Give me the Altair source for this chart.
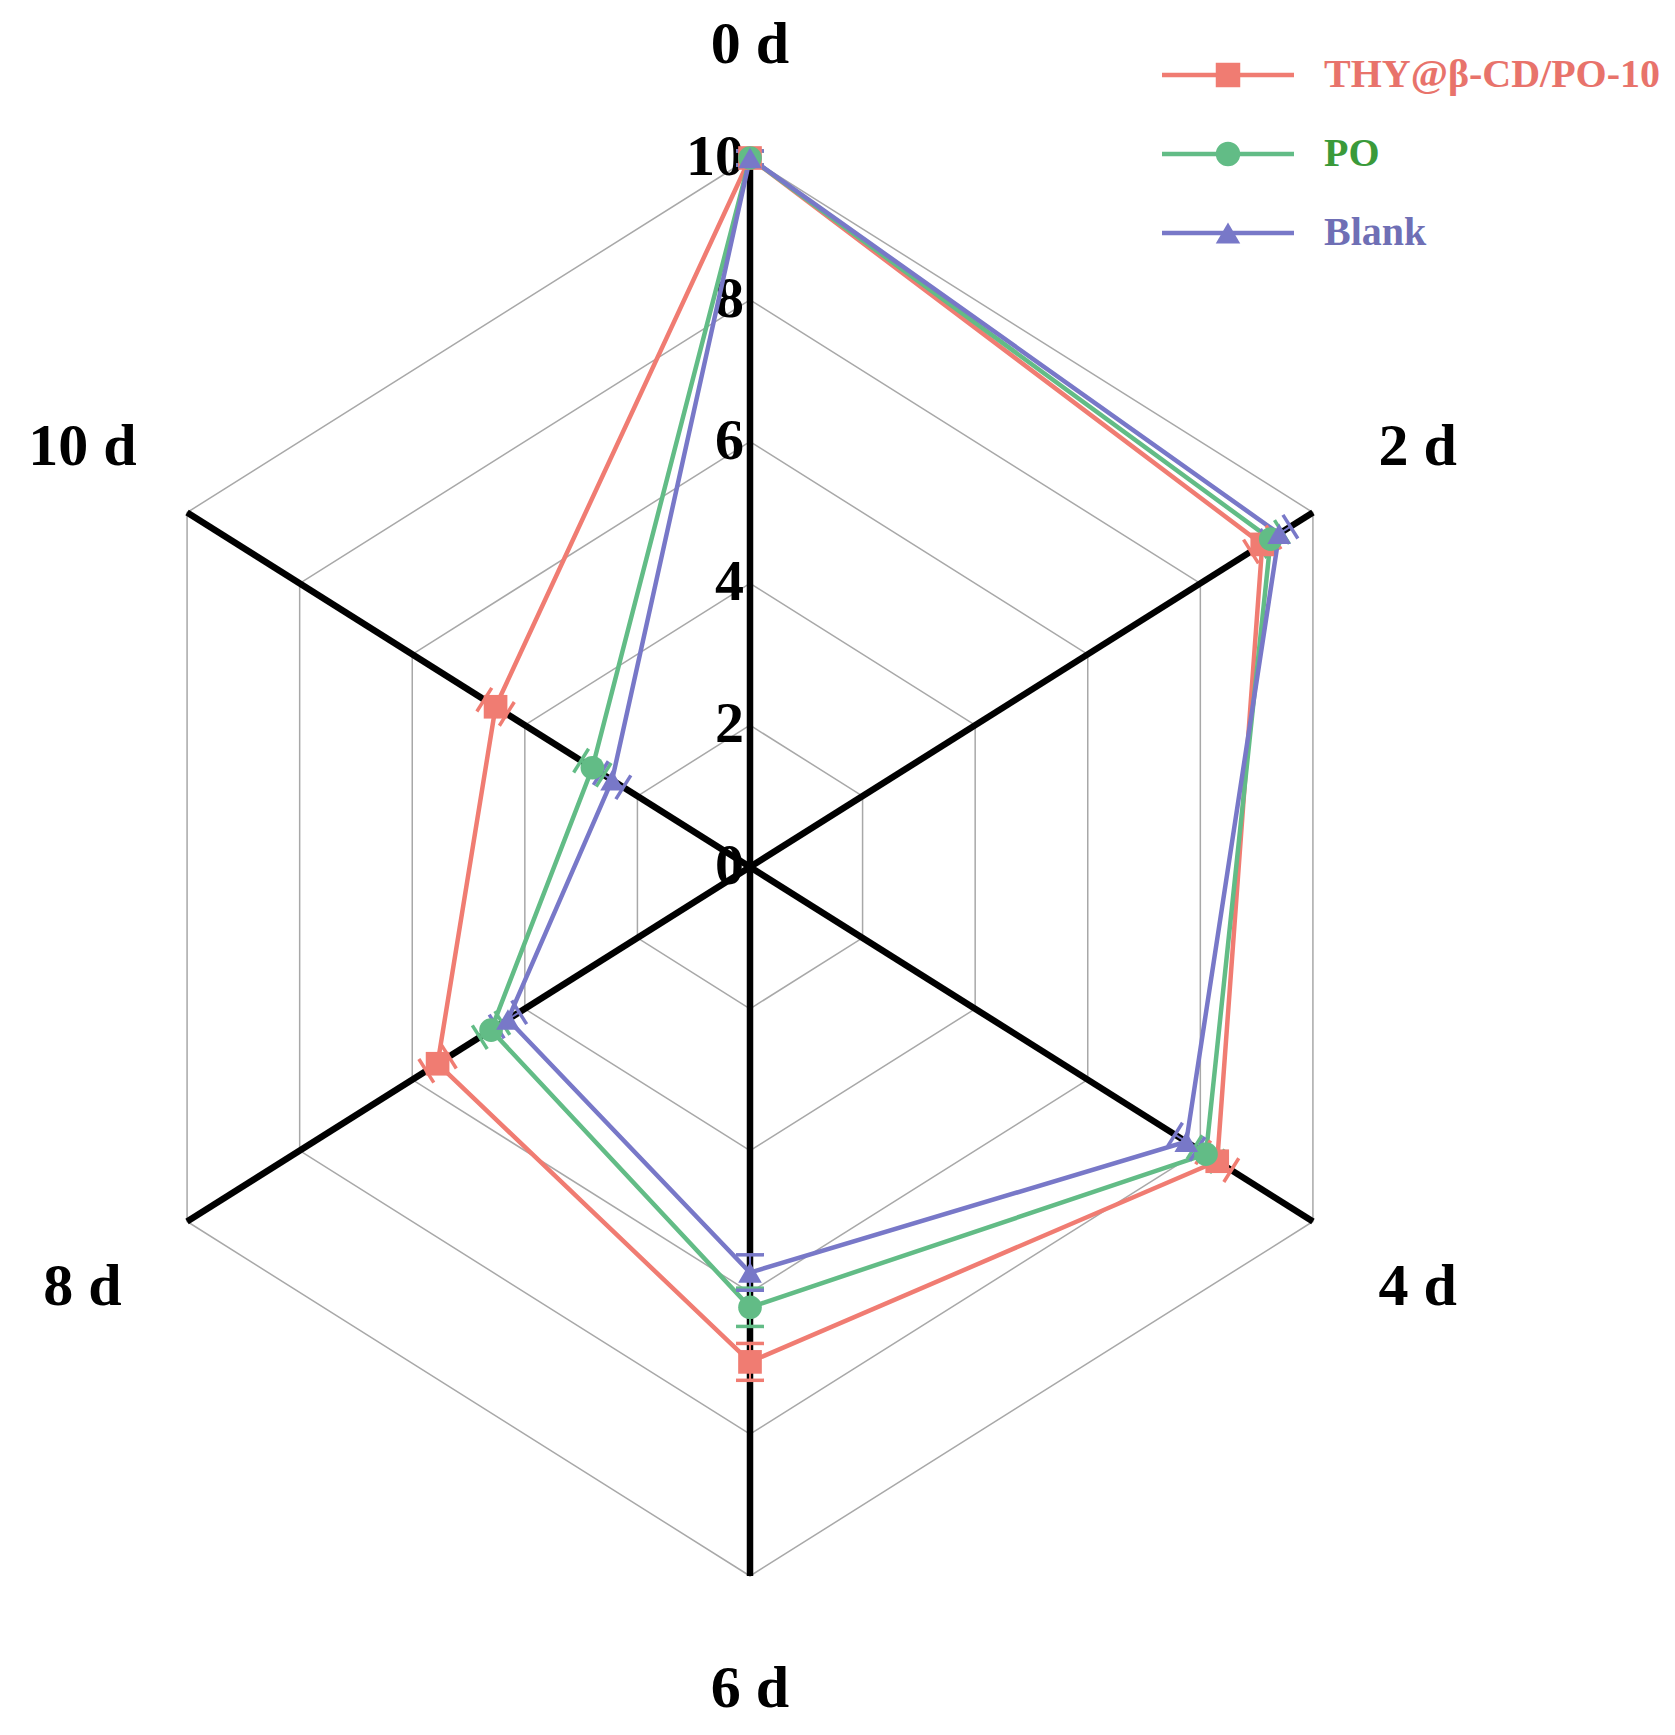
import altair as alt
import pandas as pd
import numpy as np

# ---------------- data ----------------
days = ["0 d", "2 d", "4 d", "6 d", "8 d", "10 d"]
series = ["THY@β-CD/PO-10", "PO", "Blank"]
thy = [10.0, 9.1, 8.3, 6.98, 5.55, 4.52]
po = [10.0, 9.25, 8.1, 6.21, 4.6, 2.8]
blank = [10.0, 9.4, 7.75, 5.72, 4.3, 2.45]
thy_err = [0.1, 0.2, 0.25, 0.26, 0.2, 0.2]
po_err = [0.1, 0.2, 0.2, 0.27, 0.2, 0.2]
blank_err = [0.1, 0.2, 0.2, 0.25, 0.2, 0.2]
grid_levels = [2, 4, 6, 8, 10]
tick_values = [0, 2, 4, 6, 8, 10]
tick_labels = ["0", "2", "4", "6", "8", "10"]
line_colors = ["#F07C72", "#62BC86", "#7878C8"]
text_colors = ["#E8736B", "#3A9A3A", "#6F6FB5"]
shapes = ["square", "circle", "triangle-up"]

values = [thy, po, blank]
errors = [thy_err, po_err, blank_err]

# ---------------- geometry helpers ----------------
KX, KY = 65.0, 70.9          # pixels per unit (picture is squeezed horizontally)
W, H = 1655, 1712
CX, CY = 742.0, 859.0        # centre in plot coordinates
x_dom = [-CX / KX, (W - CX) / KX]
y_dom = [-(H - CY) / KY, CY / KY]
FONT = "Liberation Serif"

angles = [np.deg2rad(90 - 60 * i) for i in range(len(days))]


def pt(r, th):
    return r * np.cos(th), r * np.sin(th)


def px2u(px):
    return (px - CX) / KX


def py2v(py):
    return (CY - py) / KY


xs = alt.Scale(domain=x_dom, nice=False, zero=False)
ys = alt.Scale(domain=y_dom, nice=False, zero=False)


def X(f):
    return alt.X(f, type="quantitative", scale=xs, axis=None)


def Y(f):
    return alt.Y(f, type="quantitative", scale=ys, axis=None)


# grid hexagons
grid_rows = []
for lv in grid_levels:
    for k in range(len(days) + 1):
        u, v = pt(lv, angles[k % len(days)])
        grid_rows.append({"level": lv, "k": k, "u": u, "v": v})
grid_df = pd.DataFrame(grid_rows)

# spokes
spoke_rows = []
for th in angles:
    u, v = pt(10, th)
    spoke_rows.append({"u0": 0.0, "v0": 0.0, "u1": u, "v1": v})
spoke_df = pd.DataFrame(spoke_rows)

# series polygons & points
line_rows, pt_rows, err_rows, cap_rows = [], [], [], []
L = 14.0
for si, s in enumerate(series):
    for k in range(len(days) + 1):
        i = k % len(days)
        u, v = pt(values[si][i], angles[i])
        line_rows.append({"series": s, "k": k, "u": u, "v": v})
    for i, d in enumerate(days):
        th = angles[i]
        val, e = values[si][i], errors[si][i]
        u, v = pt(val, th)
        pt_rows.append({"series": s, "day": d, "u": u, "v": v, "val": val})
        a = np.array([KX * np.cos(th), KY * np.sin(th)])
        a = a / np.linalg.norm(a)
        perp = np.array([-a[1], a[0]])
        du, dv = L * perp[0] / KX, L * perp[1] / KY
        lo_u, lo_v = pt(val - e, th)
        hi_u, hi_v = pt(min(val + e, 10.3), th)
        err_rows.append({"series": s, "u0": lo_u, "v0": lo_v, "u1": hi_u, "v1": hi_v})
        for cu, cv in [(lo_u, lo_v), (hi_u, hi_v)]:
            cap_rows.append({"series": s, "u0": cu - du, "v0": cv - dv,
                             "u1": cu + du, "v1": cv + dv})
line_df = pd.DataFrame(line_rows)
pt_df = pd.DataFrame(pt_rows)
err_df = pd.DataFrame(err_rows)
cap_df = pd.DataFrame(cap_rows)

color = alt.Color("series:N", scale=alt.Scale(domain=series, range=line_colors), legend=None)
shape = alt.Shape("series:N", scale=alt.Scale(domain=series, range=shapes), legend=None)

# labels
lab_rows = []
for i, d in enumerate(days):
    th = angles[i]
    r = 11.6 + 0.3 * abs(np.cos(th))
    u, v = pt(r, th)
    lab_rows.append({"label": d, "u": u, "v": v})
lab_df = pd.DataFrame(lab_rows)

tick_df = pd.DataFrame({"u": [0.0] * len(tick_values), "v": tick_values, "t": tick_labels})

# legend (layout in pixels, converted to data units)
leg_rows = []
for i, s in enumerate(series):
    py = 67 + 79 * i
    leg_rows.append({"series": s, "u0": px2u(1154), "u1": px2u(1286), "um": px2u(1220),
                     "ut": px2u(1316), "v": py2v(py), "tc": text_colors[i]})
leg_df = pd.DataFrame(leg_rows)

# ---------------- layers ----------------
grid = alt.Chart(grid_df).mark_line(color="#A8A8A8", strokeWidth=1.5).encode(
    x=X("u"), y=Y("v"), detail="level:N", order="k:Q")

spokes = alt.Chart(spoke_df).mark_rule(color="black", strokeWidth=6.5, strokeCap="butt").encode(
    x=X("u0"), y=Y("v0"), x2="u1", y2="v1")

ticks = alt.Chart(tick_df).mark_text(font=FONT, fontWeight="bold", fontSize=58, align="right",
                                     baseline="middle", dx=-6, color="black").encode(
    x=X("u"), y=Y("v"), text="t:N")

lines = alt.Chart(line_df).mark_line(strokeWidth=4.5).encode(
    x=X("u"), y=Y("v"), color=color, detail="series:N", order="k:Q")

errs = alt.Chart(err_df).mark_rule(strokeWidth=2).encode(
    x=X("u0"), y=Y("v0"), x2="u1", y2="v1", color=color)
caps = alt.Chart(cap_df).mark_rule(strokeWidth=3.5).encode(
    x=X("u0"), y=Y("v0"), x2="u1", y2="v1", color=color)

points = alt.Chart(pt_df).mark_point(filled=True, size=560, opacity=1).encode(
    x=X("u"), y=Y("v"), color=color, shape=shape)

labels = alt.Chart(lab_df).mark_text(font=FONT, fontWeight="bold", fontSize=60, align="center",
                                     baseline="middle", color="black").encode(
    x=X("u"), y=Y("v"), text="label:N")

leg_line = alt.Chart(leg_df).mark_rule(strokeWidth=4.5).encode(
    x=X("u0"), x2="u1", y=Y("v"), color=color)
leg_pt = alt.Chart(leg_df).mark_point(filled=True, size=600, opacity=1).encode(
    x=X("um"), y=Y("v"), color=color, shape=shape)
leg_txt = alt.Chart(leg_df).mark_text(font=FONT, fontWeight="bold", fontSize=40, align="left",
                                      baseline="middle").encode(
    x=X("ut"), y=Y("v"), text="series:N",
    color=alt.Color("tc:N", scale=None))

chart = alt.layer(grid, spokes, ticks, errs, lines, caps, points, labels,
                  leg_line, leg_pt, leg_txt).properties(
    width=W, height=H, padding=0, autosize=alt.AutoSizeParams(type="none")
).configure_view(stroke=None)

chart.save("out.html", embed_options={"renderer": "svg", "actions": False})
